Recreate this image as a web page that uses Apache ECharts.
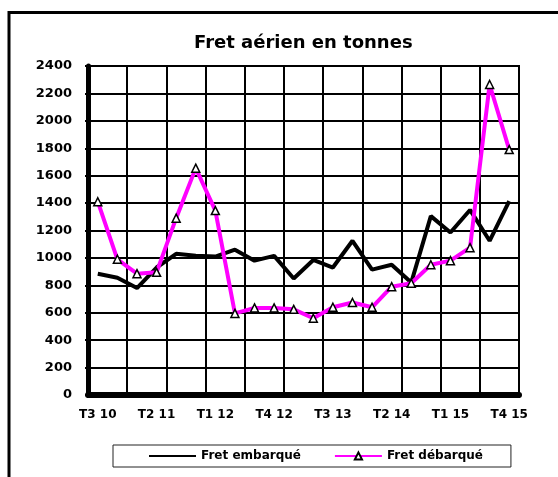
<!DOCTYPE html>
<html>
<head>
<meta charset="utf-8">
<title>Fret aérien en tonnes</title>
<script src="https://cdn.jsdelivr.net/npm/echarts@6.0.0/dist/echarts.min.js"></script>
<style>
  html, body { margin: 0; padding: 0; background: #fff; }
  #chart { width: 558px; height: 477px; }
</style>
</head>
<body>
<div id="chart"></div>
<script>
// trimestres T3 2010 -> T4 2015
var categories = [
  "T3 10", "T4 10", "T1 11", "T2 11", "T3 11", "T4 11",
  "T1 12", "T2 12", "T3 12", "T4 12", "T1 13", "T2 13",
  "T3 13", "T4 13", "T1 14", "T2 14", "T3 14", "T4 14",
  "T1 15", "T2 15", "T3 15", "T4 15"
];
var fretEmbarque = [885, 855, 780, 930, 1030, 1015, 1010, 1060, 980, 1015, 850,
  985, 930, 1125, 915, 950, 820, 1305, 1185, 1350, 1125, 1415];
var fretDebarque = [1410, 990, 885, 895, 1290, 1655, 1345, 595, 635, 635, 625,
  560, 640, 675, 640, 790, 815, 950, 980, 1075, 2265, 1790];
var yMin = 0;
var yMax = 2400;
var yStep = 200;

var font = "DejaVu Sans";
var myChart = echarts.init(document.getElementById("chart"));
var option;

option = {
  animation: false,
  backgroundColor: "#fff",
  title: {
    text: "Fret aérien en tonnes",
    left: 194,
    top: 34,
    padding: 0,
    textStyle: { fontFamily: font, fontWeight: "bold", fontSize: 18, color: "#000" }
  },
  // cadre extérieur
  graphic: [
    {
      type: "rect",
      shape: { x: 9, y: 12.5, width: 620, height: 600 },
      style: { fill: null, stroke: "#000", lineWidth: 3 },
      silent: true
    }
  ],
  grid: {
    left: 88,
    right: 39,
    top: 66,
    bottom: 82,
    show: true,
    borderColor: "#000",
    borderWidth: 2,
    backgroundColor: "#fff"
  },
  legend: {
    left: 113,
    top: 445,
    padding: [5, 28, 5, 35],
    borderColor: "#222",
    borderWidth: 1,
    itemWidth: 47,
    itemHeight: 9,
    itemGap: 33,
    textStyle: { fontFamily: font, fontWeight: "bold", fontSize: 12, color: "#000" },
    data: [
      { name: "Fret embarqué", itemStyle: { opacity: 0 } },
      { name: "Fret débarqué" }
    ]
  },
  xAxis: {
    type: "category",
    data: categories,
    boundaryGap: true,
    axisLine: { lineStyle: { color: "#000", width: 6 } },
    axisTick: { show: true, interval: 1, length: 3, lineStyle: { color: "#000", width: 2 } },
    axisLabel: {
      interval: 2,
      margin: 14,
      fontFamily: font,
      fontWeight: "bold",
      fontSize: 12,
      color: "#000"
    },
    splitLine: { show: true, interval: 1, lineStyle: { color: "#000", width: 2 } }
  },
  yAxis: {
    type: "value",
    min: yMin,
    max: yMax,
    interval: yStep,
    axisLine: { show: true, lineStyle: { color: "#000", width: 5 } },
    axisTick: { show: true, length: 3, lineStyle: { color: "#000", width: 2 } },
    axisLabel: {
      margin: 16,
      fontFamily: font,
      fontWeight: "bold",
      fontSize: 13,
      color: "#000",
      formatter: function (v) { return String(v); }
    },
    splitLine: { show: true, lineStyle: { color: "#000", width: 2 } }
  },
  series: [
    {
      name: "Fret embarqué",
      type: "line",
      data: fretEmbarque,
      symbol: "none",
      color: "#000",
      lineStyle: { color: "#000", width: 4 }
    },
    {
      name: "Fret débarqué",
      type: "line",
      data: fretDebarque,
      symbol: "triangle",
      symbolSize: 8,
      showAllSymbol: true,
      lineStyle: { color: "#ff00ff", width: 4 },
      itemStyle: { color: "#fff", borderColor: "#000", borderWidth: 1.5 }
    }
  ]
};

option && myChart.setOption(option);
</script>
</body>
</html>
